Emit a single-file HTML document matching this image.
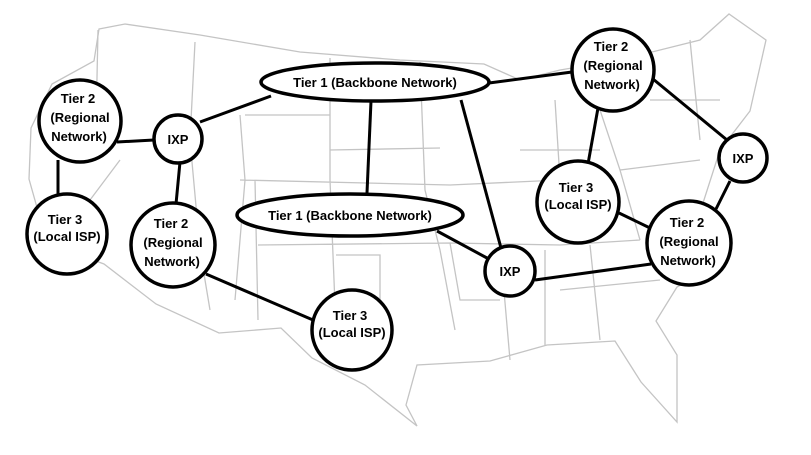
<!DOCTYPE html>
<html><head><meta charset="utf-8"><style>
html,body{margin:0;padding:0;background:#fff;}
svg{display:block;}
text{font-family:"Liberation Sans",sans-serif;font-weight:bold;font-size:13px;text-anchor:middle;fill:#000;}
</style></head><body>
<svg width="811" height="455" viewBox="0 0 811 455" xmlns="http://www.w3.org/2000/svg">
<g fill="none" stroke="#c4c4c4" stroke-width="1.3">
<path d="M99,29 L125,24 L200,35 L300,52 L400,60 L484,64 L520,80 L560,70 L620,60 L700,40 L729,14 L766,40 L750,111 L720,150 L703,203 L729,257 L677,287 L656,321 L677,355 L677,422 L641,382 L615,341 L547,345 L490,361 L417,365 L406,405 L417,426 L365,385 L312,358 L281,328 L219,333 L156,304 L104,264 L47,243 L29,179 L31,128 L52,84 L94,61 Z"/>
<path d="M98,30 L96,125 M195,42 L190,140 L200,250 L210,310 M240,115 L245,180 L235,300 M330,58 L330,180 M240,180 L450,185 L560,180 M245,115 L330,115 M330,150 L440,148 M420,62 L425,190 L440,250 L455,330 M255,180 L258,320 M330,180 L336,330 M258,245 L450,243 L560,245 L640,240 M336,255 L380,255 L380,330 M450,243 L460,300 L500,300 M500,245 L510,360 M545,250 L545,345 M590,245 L600,340 M560,180 L555,100 M520,150 L600,150 M600,110 L620,170 L660,165 M620,170 L640,240 M660,165 L700,160 M650,100 L720,100 M690,40 L700,140 M560,290 L660,280 M120,160 L60,240"/>
</g>
<g stroke="#000" stroke-width="3" fill="none">
<line x1="271" y1="96" x2="200" y2="122"/>
<line x1="117" y1="142" x2="154" y2="140"/>
<line x1="58" y1="160" x2="58" y2="194"/>
<line x1="180" y1="162" x2="176" y2="204"/>
<line x1="371" y1="101" x2="367" y2="193"/>
<line x1="461" y1="100" x2="501" y2="248"/>
<line x1="437" y1="231" x2="487" y2="258"/>
<line x1="206" y1="274" x2="313" y2="320"/>
<line x1="489" y1="83" x2="572" y2="72"/>
<line x1="598" y1="108" x2="588" y2="164"/>
<line x1="653" y1="79" x2="727" y2="140"/>
<line x1="619" y1="213" x2="650" y2="228"/>
<line x1="535" y1="280" x2="651" y2="264"/>
<line x1="730" y1="181" x2="716" y2="209"/>
</g>
<g stroke="#000" stroke-width="3.5" fill="#fff">
<ellipse cx="375" cy="82" rx="114" ry="19"/>
<ellipse cx="350" cy="215" rx="113" ry="21"/>
<circle cx="80" cy="121" r="41"/>
<circle cx="178" cy="139" r="24"/>
<circle cx="67" cy="234" r="40"/>
<circle cx="173" cy="245" r="42"/>
<circle cx="352" cy="330" r="40"/>
<circle cx="510" cy="271" r="25"/>
<circle cx="613" cy="70" r="41"/>
<circle cx="578" cy="202" r="41"/>
<circle cx="689" cy="243" r="42"/>
<circle cx="743" cy="158" r="24"/>
</g>
<text x="375" y="87">Tier 1 (Backbone Network)</text>
<text x="350" y="220">Tier 1 (Backbone Network)</text>
<text x="78" y="103">Tier 2</text><text x="80" y="122">(Regional</text><text x="79" y="141">Network)</text>
<text x="178" y="144">IXP</text>
<text x="65" y="224">Tier 3</text><text x="67" y="241">(Local ISP)</text>
<text x="171" y="228">Tier 2</text><text x="173" y="247">(Regional</text><text x="172" y="266">Network)</text>
<text x="350" y="320">Tier 3</text><text x="352" y="337">(Local ISP)</text>
<text x="510" y="276">IXP</text>
<text x="611" y="51">Tier 2</text><text x="613" y="70">(Regional</text><text x="612" y="89">Network)</text>
<text x="576" y="192">Tier 3</text><text x="578" y="209">(Local ISP)</text>
<text x="687" y="227">Tier 2</text><text x="689" y="246">(Regional</text><text x="688" y="265">Network)</text>
<text x="743" y="163">IXP</text>
</svg>
</body></html>
